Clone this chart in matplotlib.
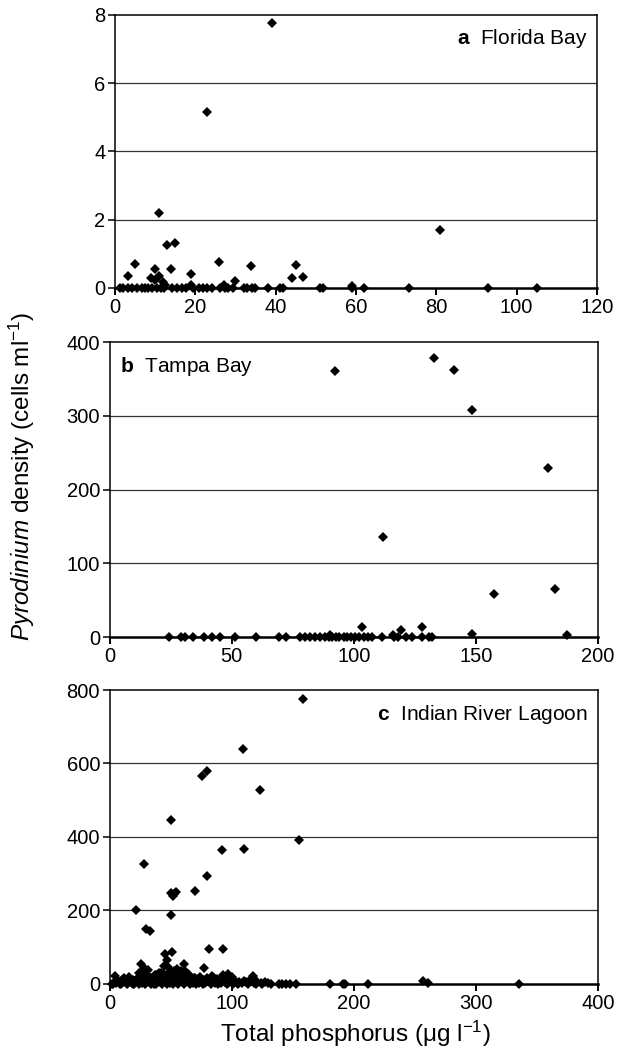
import numpy as np
import matplotlib.pyplot as plt

plt.rcParams['font.family'] = ['Liberation Sans', 'DejaVu Sans']
plt.rcParams['mathtext.fontset'] = 'custom'
plt.rcParams['mathtext.rm'] = 'Liberation Sans'
plt.rcParams['mathtext.it'] = 'Liberation Sans:italic'
plt.rcParams['mathtext.bf'] = 'Liberation Sans:bold'

# ---- panel a: Florida Bay ----
fb_x = [39.0, 22.8, 11.0, 13.0, 15.0, 5.1, 3.2, 10.0, 9.0, 11.0, 10.0, 12.0, 14.0,
        18.9, 26.0, 33.9, 29.9, 27.1, 44.0, 45.0, 46.9, 81.0, 59.1, 18.9, 12.5,
        1.2, 2.1, 3.2, 4.2, 5.4, 6.6, 7.5, 8.3, 9.1, 10.5, 11.5, 12.2, 14.1, 15.4,
        16.6, 17.8, 19.5, 20.8, 22.0, 22.8, 24.1, 26.2, 27.4, 28.2, 29.3, 32.0,
        32.8, 34.0, 34.9, 38.2, 41.1, 41.9, 51.1, 51.9, 59.1, 62.1, 73.1, 92.9, 105.1]
fb_y = [7.76, 5.17, 2.20, 1.27, 1.32, 0.71, 0.36, 0.56, 0.29, 0.36, 0.24, 0.17, 0.56,
        0.41, 0.77, 0.65, 0.20, 0.10, 0.29, 0.66, 0.31, 1.71, 0.07, 0.10, 0.08,
        0, 0, 0, 0, 0, 0, 0, 0, 0, 0, 0, 0, 0, 0,
        0, 0, 0, 0, 0, 0, 0, 0, 0, 0, 0, 0,
        0, 0, 0, 0, 0, 0, 0, 0, 0, 0, 0, 0, 0]

# ---- panel b: Tampa Bay ----
tb_x = [92.2, 133.0, 141.2, 148.4, 179.5, 112.1, 157.3, 182.3, 103.3, 128.1, 119.2,
        148.4, 187.5, 90.4, 116.2,
        24.2, 29.0, 30.9, 34.1, 38.5, 42.0, 45.2, 51.2, 59.9, 69.2, 72.3, 78.1, 80.0,
        82.0, 84.0, 86.0, 88.0, 90.0, 91.0, 92.5, 94.0, 96.0, 97.3, 99.0, 100.5,
        102.0, 104.0, 106.0, 107.5, 111.6, 116.4, 118.0, 121.2, 123.9, 128.1, 130.8, 132.2]
tb_y = [361, 378, 362, 308, 229, 136, 59, 66, 14, 14, 10, 4.5, 2.3, 3.6, 3.6,
        0, 0, 0, 0, 0, 0, 0, 0, 0, 0, 0, 0, 0,
        0, 0, 0, 0, 0, 0, 0, 0, 0, 0, 0, 0,
        0, 0, 0, 0, 0, 0, 0, 0, 0, 0, 0, 0]

# ---- panel c: Indian River Lagoon ----
irl_x = [158.5, 109.5, 75.8, 79.9, 122.7, 49.8, 154.7, 92.0, 110.1, 27.9, 79.4, 69.8,
         49.8, 51.7, 54.5, 52.5, 21.6, 49.8, 29.3, 32.6, 81.3, 92.8, 45.2, 50.9, 47.1,
         44.2, 25.2, 27.9, 31.2, 24.1, 60.8, 77.0, 4.4, 117.0, 118.0, 92.8, 96.6,
         256.8, 260.9, 180.4, 191.0, 192.5, 212.0, 335.0, 132.0, 138.5, 141.0, 144.5,
         148.0, 152.8,
         2, 4, 5, 7, 8, 10, 11, 12, 13, 14, 15, 16, 17, 18, 19, 20, 21, 22, 23, 24,
         25, 26, 27, 28, 29, 30, 31, 32, 33, 34, 35, 36, 37, 38, 39, 40, 41, 42, 43,
         44, 45, 46, 47, 48, 49, 50, 51, 52, 53, 54, 55, 56, 57, 58, 59, 60, 61, 62,
         63, 64, 65, 66, 67, 68, 69, 70, 71, 72, 73, 74, 75, 76, 77, 78, 79, 80, 82,
         84, 85, 86, 88, 90, 91, 93, 94, 95, 97, 99, 100, 102, 104, 106, 108, 110,
         112, 115, 118, 121, 124, 127, 130,
         3, 9, 14, 19, 24, 29, 34, 38, 43, 47, 52, 56, 61, 66, 71, 76, 83, 89, 96,
         101, 105, 113, 120, 125,
         55, 58, 62, 65, 48, 53, 60, 42, 38, 70, 85, 95, 100, 97, 26, 28, 35]
irl_y = [776, 640, 567, 580, 528, 447, 392, 365, 367, 326, 293, 253, 247, 240, 251,
         245, 200, 187, 150, 144, 96, 96, 82, 88, 65, 50, 54, 43, 38, 29, 54, 43, 22,
         22, 13, 24, 26, 8, 2, 0, 0, 0, 0, 0, 0, 0, 0, 0, 0, 0,
         0, 5, 2, 8, 0, 12, 4, 15, 6, 10, 3, 18, 7, 2, 11, 0, 9, 14, 5, 20, 8, 3,
         16, 6, 12, 2, 22, 9, 4, 17, 10, 1, 25, 7, 13, 30, 5, 19, 9, 28, 14, 6, 24,
         11, 3, 32, 8, 18, 26, 12, 4, 21, 10, 35, 7, 15, 2, 20, 9, 28, 5, 14, 11, 3,
         17, 8, 6, 13, 2, 19, 10, 5, 12, 3, 8, 16, 4, 22, 9, 2, 14, 7, 3, 11, 5, 18,
         2, 8, 4, 10, 3, 6, 2, 9, 4, 12, 3, 6, 2, 5, 2,
         0, 0, 0, 0, 0, 0, 0, 0, 0, 0, 0, 0, 0, 0, 0, 0, 0, 0, 0, 0, 0, 0, 0, 0,
         40, 30, 35, 25, 45, 35, 20, 30, 25, 15, 15, 15, 20, 12, 30, 35, 20]

panels = [
    dict(x=fb_x, y=fb_y, xlim=120, xstep=20, ylim=8, ystep=2,
         label='Florida Bay', letter='a', right=True,
         rect=[0.1864, 0.7252, 0.781, 0.2605]),
    dict(x=tb_x, y=tb_y, xlim=200, xstep=50, ylim=400, ystep=100,
         label='Tampa Bay', letter='b', right=False,
         rect=[0.178, 0.392, 0.791, 0.2815]),
    dict(x=irl_x, y=irl_y, xlim=400, xstep=100, ylim=800, ystep=200,
         label='Indian River Lagoon', letter='c', right=True,
         rect=[0.178, 0.0611, 0.791, 0.2805]),
]

fig = plt.figure(figsize=(6.17, 10.48), dpi=100)

for p in panels:
    ax = fig.add_axes(p['rect'])
    ax.set_xlim(0, p['xlim'])
    ax.set_ylim(0, p['ylim'])
    ax.set_xticks(np.arange(0, p['xlim'] + 1, p['xstep']))
    ax.set_yticks(np.arange(0, p['ylim'] + 1, p['ystep']))
    for g in np.arange(p['ystep'], p['ylim'], p['ystep']):
        ax.axhline(g, color='#333333', lw=0.9, zorder=1)
    ax.plot(p['x'], p['y'], 'D', color='black', ms=5.1, mew=0,
            clip_on=False, zorder=5)
    for s in ['top', 'right', 'left']:
        ax.spines[s].set_linewidth(1.1)
    ax.spines['bottom'].set_linewidth(1.8)
    ax.spines['bottom'].set_zorder(4)
    ax.tick_params(direction='out', length=5, width=1.1, labelsize=14.5,
                   pad=2)
    ax.xaxis.set_tick_params(width=1.4)
    txt = r'$\mathbf{' + p['letter'] + r'}$  ' + p['label']
    if p['right']:
        ax.text(0.98, 0.955, txt, transform=ax.transAxes, ha='right', va='top',
                fontsize=15)
    else:
        ax.text(0.02, 0.955, txt, transform=ax.transAxes, ha='left', va='top',
                fontsize=15)

fig.text(0.036, 0.545, r'$\it{Pyrodinium}$ density (cells ml$^{-1}$)',
         rotation=90, ha='center', va='center', fontsize=17.5)
fig.text(0.576, 0.0134, r'Total phosphorus ($\mathrm{\mu}$g l$^{-1}$)',
         ha='center', va='center', fontsize=17.5)

fig.savefig('out.png', dpi=100)
